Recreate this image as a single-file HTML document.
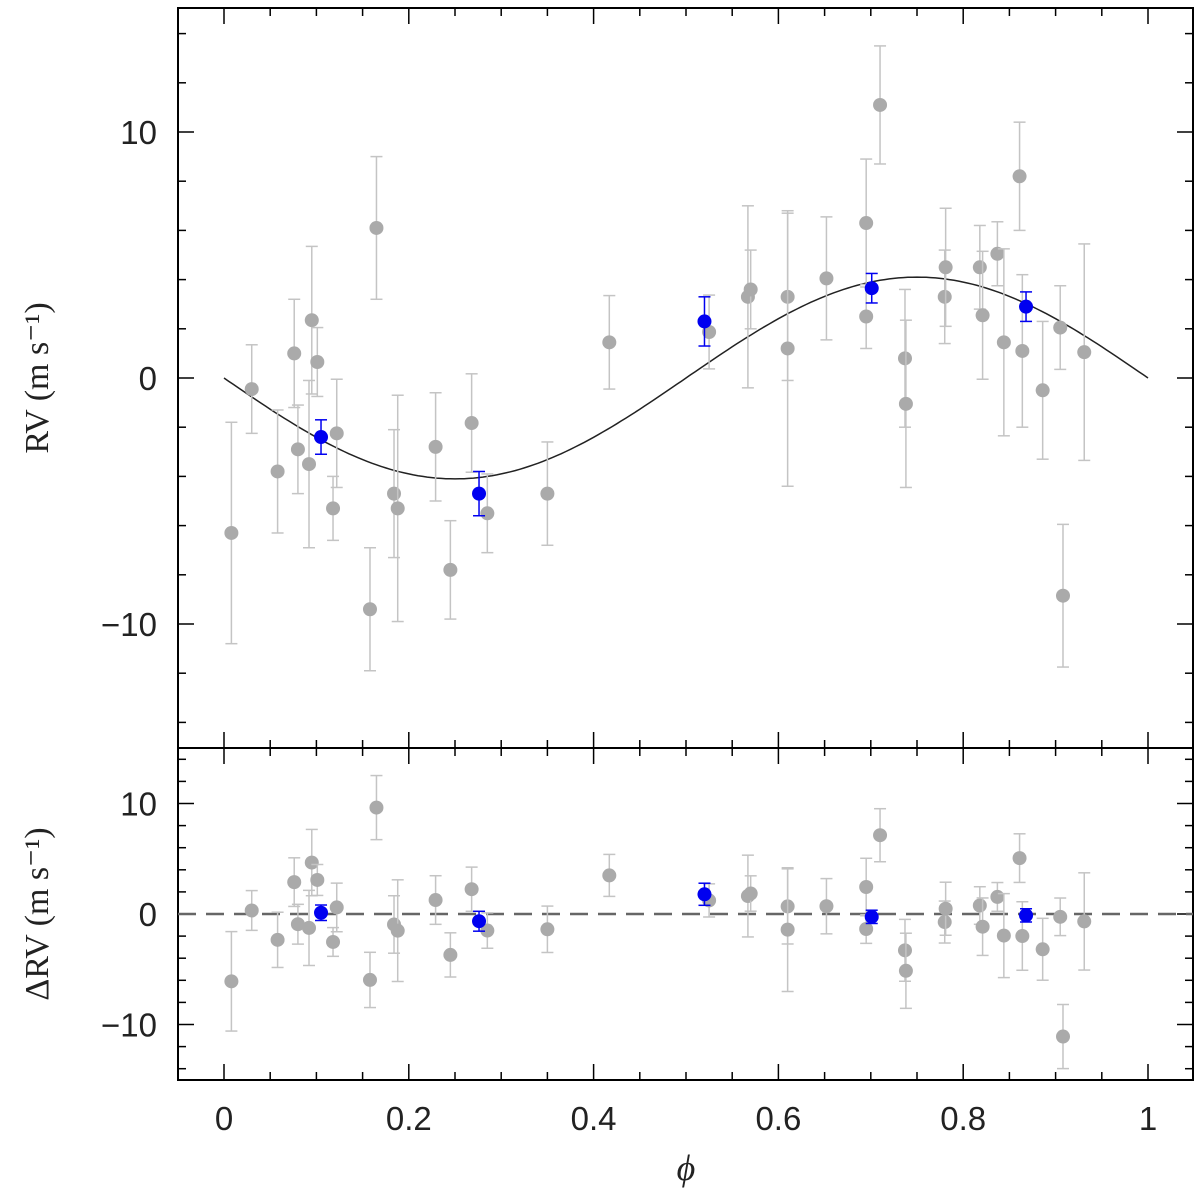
<!DOCTYPE html>
<html><head><meta charset="utf-8"><style>
html,body{margin:0;padding:0;background:#fff}
svg{display:block}
text{font-family:"Liberation Sans",sans-serif;fill:#222}
</style></head><body>
<svg id="chart" width="1200" height="1196" viewBox="0 0 1200 1196" xmlns="http://www.w3.org/2000/svg"></svg>
<script>
// Gray (archival) data
const grayPhase=[0.008,0.03,0.058,0.076,0.08,0.092,0.095,0.101,0.118,0.122,0.158,0.165,0.184,0.188,0.229,0.245,0.268,0.285,0.35,0.417,0.525,0.567,0.57,0.61,0.61,0.652,0.695,0.695,0.71,0.737,0.738,0.78,0.781,0.818,0.821,0.837,0.844,0.861,0.864,0.886,0.905,0.908,0.931];
const grayRV=[-6.3,-0.45,-3.8,1.0,-2.9,-3.5,2.35,0.65,-5.3,-2.25,-9.4,6.1,-4.7,-5.3,-2.8,-7.8,-1.83,-5.5,-4.7,1.45,1.87,3.3,3.6,3.3,1.2,4.05,6.3,2.5,11.1,0.8,-1.05,3.3,4.5,4.5,2.55,5.05,1.45,8.2,1.1,-0.5,2.05,-8.85,1.05];
const grayErr=[4.5,1.8,2.5,2.2,1.8,3.4,3.0,1.4,1.3,2.2,2.5,2.9,2.6,4.6,2.2,2.0,2.0,1.6,2.1,1.9,1.5,3.7,1.6,3.4,5.6,2.5,2.6,1.3,2.4,2.8,3.4,1.9,2.4,1.7,2.6,1.3,3.8,2.2,3.1,2.8,1.7,2.9,4.4];
// Blue (new) data
const bluePhase=[0.105,0.276,0.52,0.701,0.868];
const blueRV=[-2.4,-4.7,2.3,3.65,2.9];
const blueErr=[0.7,0.9,1.0,0.6,0.6];
const K=4.1;
const xTicks=[0,0.2,0.4,0.6,0.8,1];
const xTickLabels=["0","0.2","0.4","0.6","0.8","1"];
const yTicks=[-10,0,10];
const yTickLabels=["\u221210","0","10"];

const svg=document.getElementById('chart');
const NS="http://www.w3.org/2000/svg";
const L=178,R=1193,T=8,M=748,B=1080;
const xs=p=>224+p*924;
const yTop=v=>378-v*24.6;
const yBot=v=>914-v*11.05;
const model=p=>-K*Math.sin(2*Math.PI*p);
function el(tag,attrs,parent){const e=document.createElementNS(NS,tag);for(const k in attrs)e.setAttribute(k,attrs[k]);(parent||svg).appendChild(e);return e;}

// frames
const f1=el('rect',{x:L,y:T,width:R-L,height:M-T,fill:'none',stroke:'#000','stroke-width':2});


const f2=el('rect',{x:L,y:M,width:R-L,height:B-M,fill:'none',stroke:'#000','stroke-width':2});



// x ticks
for(let p=0;p<=1.0001;p+=0.05){
  const major=Math.abs(p*5-Math.round(p*5))<1e-6;
  const len=major?16:8;const x=xs(p);
  [[B,-1],[M,-1],[M,1],[T,1]].forEach(([y,d])=>{
    const t=el('line',{x1:x,x2:x,y1:y,y2:y+d*len,stroke:'#000','stroke-width':1.5});
    
    
  });
}
xTicks.forEach((p,i)=>{
  const t=el('text',{x:xs(p),y:1130,'text-anchor':'middle','font-size':33});
  t.textContent=xTickLabels[i];
  
  
});
// y ticks
for(let v=-14;v<=14;v+=2){
  const major=v%10===0;const len=major?16:8;
  [[yTop(v)],[yBot(v)]].forEach(([y],k)=>{
    if(k===1&&(y<=M+1||y>=B-1))return;
    [[L,1],[R,-1]].forEach(([x,d])=>{
      const t=el('line',{x1:x,x2:x+d*len,y1:y,y2:y,stroke:'#000','stroke-width':1.5});
      
      
    });
  });
}
yTicks.forEach((v,i)=>{
  [yTop(v),yBot(v)].forEach((y,k)=>{
    const t=el('text',{x:157,y:y+12,'text-anchor':'end','font-size':33});
    t.textContent=yTickLabels[i];
    
    
  });
});
// axis titles
const yt=el('text',{transform:'translate(48,378) rotate(-90)','text-anchor':'middle','font-size':34,style:'font-family:"Liberation Serif",serif'});
yt.textContent='RV  (m s\u207B\u00B9)';


const yt2=el('text',{transform:'translate(48,914) rotate(-90)','text-anchor':'middle','font-size':34,style:'font-family:"Liberation Serif",serif'});
yt2.textContent='\u0394RV  (m s\u207B\u00B9)';


const xt=el('text',{x:686,y:1180,'text-anchor':'middle','font-size':36,style:'font-family:"Liberation Serif",serif;font-style:italic'});
xt.textContent='\u03D5';



// model curve
let d='';for(let i=0;i<=200;i++){const p=i/200;d+=(i?'L':'M')+xs(p).toFixed(1)+','+yTop(model(p)).toFixed(1);}
const c=el('path',{d:d,fill:'none',stroke:'#222','stroke-width':1.5});


// zero line
const z=el('line',{x1:L,x2:R,y1:yBot(0),y2:yBot(0),stroke:'#666','stroke-width':2.5,'stroke-dasharray':'18,10'});



function point(p,v,e,ys,col,ecol,name){
  const x=xs(p),y=ys(v),y1=ys(v+e),y2=ys(v-e);
  const g=el('g',{});
  
  
  el('line',{x1:x,x2:x,y1:y1,y2:y2,stroke:ecol,'stroke-width':1.5},g);
  el('line',{x1:x-6,x2:x+6,y1:y1,y2:y1,stroke:ecol,'stroke-width':1.5},g);
  el('line',{x1:x-6,x2:x+6,y1:y2,y2:y2,stroke:ecol,'stroke-width':1.5},g);
  el('circle',{cx:x,cy:y,r:7,fill:col},g);
}
grayPhase.forEach((p,i)=>{
  point(p,grayRV[i],grayErr[i],yTop,'#aaa','#c4c4c4','gray-rv-point');
  point(p,grayRV[i]-model(p),grayErr[i],yBot,'#aaa','#c4c4c4','gray-residual-point');
});
bluePhase.forEach((p,i)=>{
  point(p,blueRV[i],blueErr[i],yTop,'#0000f0','#0000f0','blue-rv-point');
  point(p,blueRV[i]-model(p),blueErr[i],yBot,'#0000f0','#0000f0','blue-residual-point');
});
</script>
</body></html>
